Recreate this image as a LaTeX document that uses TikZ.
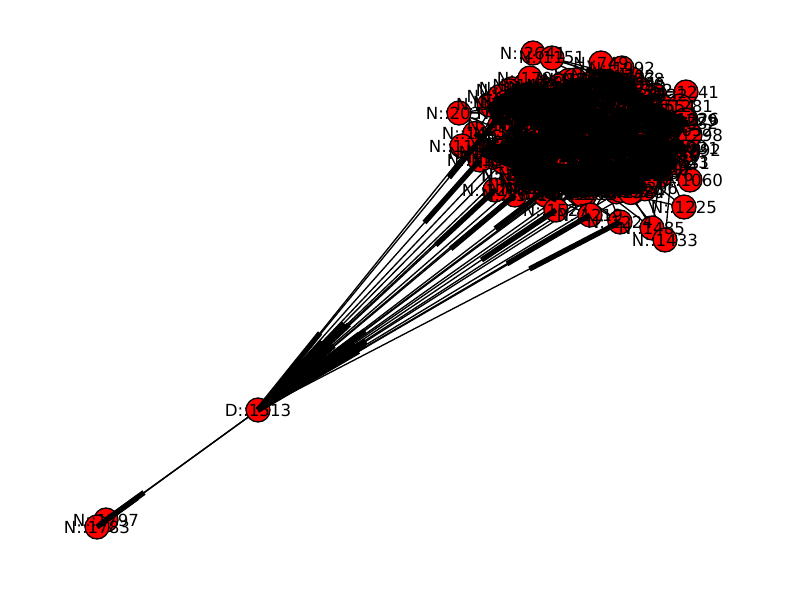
\documentclass[tikz,border=0pt]{standalone}
\usepackage{fontspec}
\setmainfont{DejaVu Sans}
\usetikzlibrary{backgrounds,calc}
\pgfdeclarelayer{arr}
\pgfdeclarelayer{fg}
\pgfsetlayers{background,main,arr,fg}
\tikzset{
  vtx/.style={circle,fill=red,draw=black,line width=1pt,minimum size=18pt,inner sep=0pt},
  vlab/.style={font=\fontsize{12.5pt}{12.5pt}\selectfont,inner sep=0pt,text=black},
  edgeline/.style={draw=black,line width=1pt},
  arrowpart/.style={draw=black,line width=4pt},
}
\newcommand{\thinedge}[2]{\draw[edgeline] (#1.center) -- (#2.center);}
\newcommand{\headedge}[2]{\draw[arrowpart] ($(#1.center)!0.75!(#2.center)$) -- (#2.center);}
\newcommand{\alledges}[1]{%
\pgfmathsetseed{11}%
\foreach \k in {1,...,800}{
  \pgfmathrandominteger{\ia}{1}{130}
  \pgfmathrandominteger{\ib}{1}{130}
  \ifnum\ia=\ib\else#1{c\ia}{c\ib}\fi
}
\foreach \p in {p1,p2,p3,p4,p5,p6,p7,p8,p9,p10,p11,p12,p13,p14,p15,p16,p17,p18,p19,p20,p21,p22,p23,p24,p25,p26}{
  \foreach \t in {1,2,3}{
    \pgfmathrandominteger{\ia}{1}{130}
    #1{\p}{c\ia}
  }
}
\foreach \p in {p10,p11,p12,p13,p21,p22,c5,c12,c20}{#1{D}{\p}}
\foreach \p in {p3,p4,p5,p9,p18,p19,c3,c8,c15,c30,c40,c50,c60,c70}{#1{\p}{D}}
#1{D}{b1}
#1{D}{b2}
}
\begin{document}
\begin{tikzpicture}[x=0.75pt,y=-0.75pt]
\useasboundingbox (0,0) rectangle (800,600);
\pgfmathsetseed{7}
% cluster interior nodes
\foreach \i in {1,...,130}{
  \pgfmathsetmacro\ang{360*rnd}
  \pgfmathsetmacro\rr{sqrt(rnd)}
  \pgfmathsetmacro\cx{583+110*\rr*cos(\ang)}
  \pgfmathsetmacro\cy{136+64*\rr*sin(\ang)}
  \node[vtx] (c\i) at (\cx,\cy) {};
}
% explicit nodes
\node[vtx] (p1) at (533,53) {};
\node[vtx] (p2) at (552,58) {};
\node[vtx] (p3) at (601,63) {};
\node[vtx] (p4) at (622,68) {};
\node[vtx] (p5) at (686,92) {};
\node[vtx] (p6) at (680,106) {};
\node[vtx] (p7) at (459,113) {};
\node[vtx] (p8) at (462,146) {};
\node[vtx] (p9) at (506,102) {};
\node[vtx] (p10) at (515,195) {};
\node[vtx] (p11) at (556,210) {};
\node[vtx] (p12) at (590,215) {};
\node[vtx] (p13) at (620,222) {};
\node[vtx] (p14) at (652,228) {};
\node[vtx] (p15) at (665,240) {};
\node[vtx] (p16) at (684,207) {};
\node[vtx] (p17) at (690,180) {};
\node[vtx] (p18) at (688,150) {};
\node[vtx] (p19) at (690,135) {};
\node[vtx] (p20) at (685,120) {};
\node[vtx] (p21) at (480,160) {};
\node[vtx] (p22) at (495,190) {};
\node[vtx] (p23) at (530,78) {};
\node[vtx] (p24) at (575,80) {};
\node[vtx] (p25) at (640,90) {};
\node[vtx] (p26) at (500,125) {};
\node[vtx] (D) at (258,410) {};
\node[vtx] (b1) at (106,520) {};
\node[vtx] (b2) at (97,527) {};
\begin{pgfonlayer}{background}
\alledges{\thinedge}
\end{pgfonlayer}
\begin{pgfonlayer}{arr}
\alledges{\headedge}
\end{pgfonlayer}
\begin{pgfonlayer}{fg}
\pgfmathsetseed{5}
\foreach \i in {1,...,130}{
  \pgfmathrandominteger{\num}{1000}{1999}
  \node[vlab] (l\i) at (c\i) {N::\num};
}
\node[vlab] (lp1) at (p1) {N::2641};
\node[vlab] (lp2) at (p2) {N::1151};
\node[vlab] (lp3) at (p3) {N::749};
\node[vlab] (lp4) at (p4) {N::1992};
\node[vlab] (lp5) at (p5) {N::1241};
\node[vlab] (lp6) at (p6) {N::1281};
\node[vlab] (lp7) at (p7) {N::2037};
\node[vlab] (lp8) at (p8) {N::1168};
\node[vlab] (lp9) at (p9) {N::1029};
\node[vlab] (lp10) at (p10) {N::1301};
\node[vlab] (lp11) at (p11) {N::1527};
\node[vlab] (lp12) at (p12) {N::1219};
\node[vlab] (lp13) at (p13) {N::1224};
\node[vlab] (lp14) at (p14) {N::1485};
\node[vlab] (lp15) at (p15) {N::1433};
\node[vlab] (lp16) at (p16) {N::1225};
\node[vlab] (lp17) at (p17) {N::1060};
\node[vlab] (lp18) at (p18) {N::1292};
\node[vlab] (lp19) at (p19) {N::1298};
\node[vlab] (lp20) at (p20) {N::1279};
\node[vlab] (lp21) at (p21) {N::1134};
\node[vlab] (lp22) at (p22) {N::1290};
\node[vlab] (lp23) at (p23) {N::1706};
\node[vlab] (lp24) at (p24) {N::1544};
\node[vlab] (lp25) at (p25) {N::1352};
\node[vlab] (lp26) at (p26) {N::1088};
\node[vlab] (lD) at (D) {D::1513};
\node[vlab] (lb1) at (b1) {N::1797};
\node[vlab] (lb2) at (b2) {N::1783};
\end{pgfonlayer}
\end{tikzpicture}
\end{document}
